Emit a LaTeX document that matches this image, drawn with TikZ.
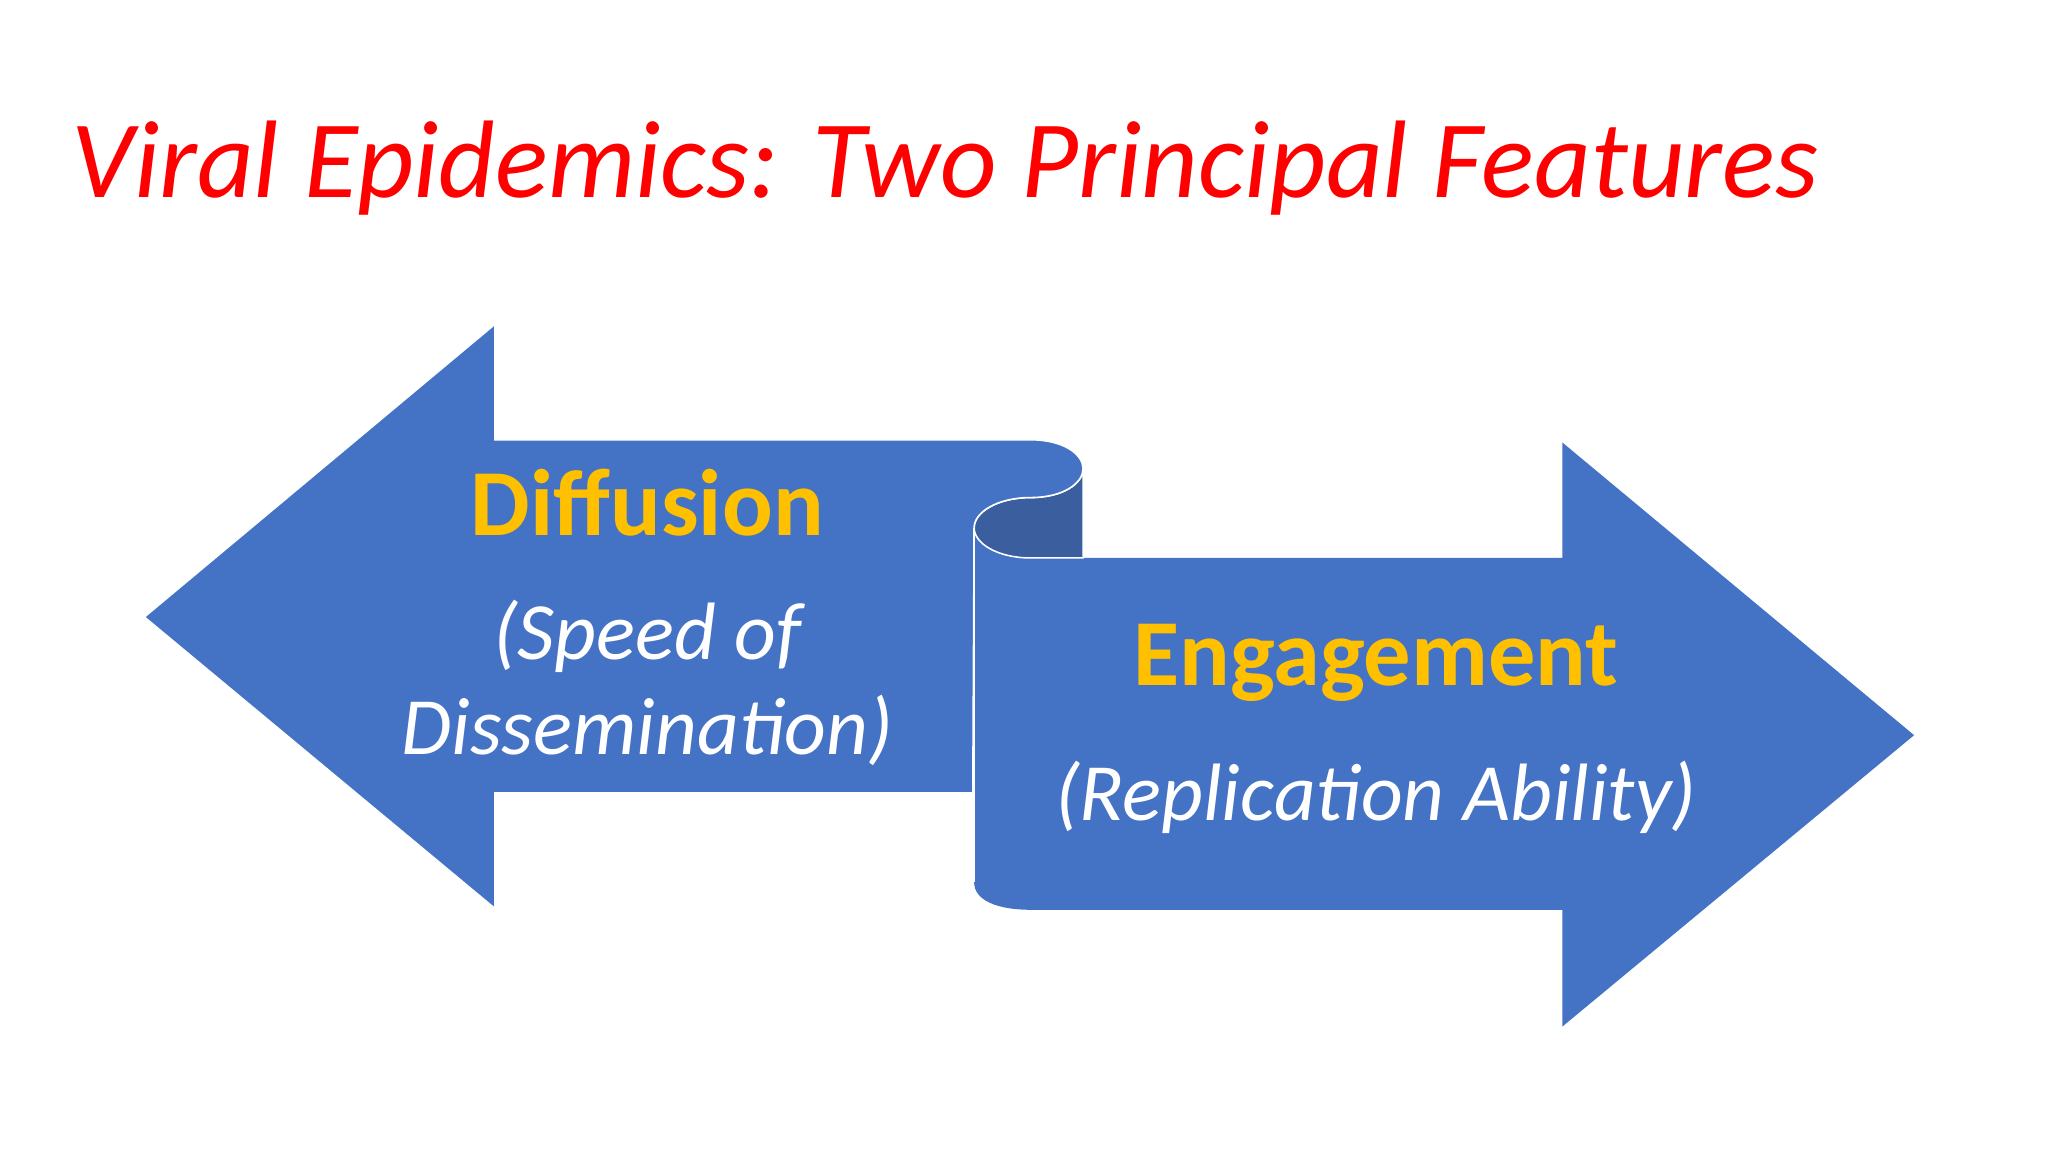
\documentclass[tikz,border=0pt]{standalone}
\usepackage{fontspec}
\setmainfont{Carlito}
\usepackage{xcolor}
\usetikzlibrary{positioning}
\definecolor{arrowblue}{HTML}{4472C4}
\definecolor{backblue}{HTML}{3A5E9E}
\definecolor{gold}{HTML}{FFC000}
\tikzset{
  head/.style={font=\fontsize{36}{40}\selectfont\bfseries, text=gold},
  sub/.style={font=\fontsize{31}{36}\selectfont\itshape, text=white, align=center},
  band/.style={fill=arrowblue, draw=white, line width=0.6pt}
}
\begin{document}
\begin{tikzpicture}[x=0.5pt, y=-0.5pt]
\useasboundingbox (0,0) rectangle (1560,878);
\fill[white] (0,0) rectangle (1560,878);
% title
\node[text=red, font=\fontsize{42}{48}\selectfont\itshape] (title) at (720,128)
  {Viral Epidemics: Two Principal Features};
% right arrow
\fill[arrowblue] (742,402) -- (742,672) .. controls (742,686) and (760,693) .. (785,693)
  -- (1190,693) -- (1190,782) -- (1458,560) -- (1190,337) -- (1190,425) -- (785,425) -- cycle;
% back of the fold
\filldraw[fill=backblue, draw=white, line width=0.6pt] (742,402) .. controls (742,390) and (760,379) .. (785,379)
  .. controls (810,379) and (825,368) .. (825,357) -- (825,425) -- (785,425)
  .. controls (760,425) and (742,414) .. (742,402);
% left arrow
\filldraw[band] (110,470) -- (377,247) -- (377,335) -- (785,335)
  .. controls (810,335) and (825,346) .. (825,357)
  .. controls (825,368) and (810,379) .. (785,379)
  .. controls (760,379) and (742,390) .. (742,402)
  -- (741,604) -- (377,604) -- (377,692) -- cycle;
\draw[white, line width=0.6pt] (742,402) -- (742,672);
% labels
\node[head] (diffusion) at (493,383) {Diffusion};
\node[sub] (speed) at (493,520) {(Speed of\\Dissemination)};
\node[head] (engagement) at (1048,505) {Engagement};
\node[sub] (replication) at (1048,607) {(Replication Ability)};
\end{tikzpicture}
\end{document}
